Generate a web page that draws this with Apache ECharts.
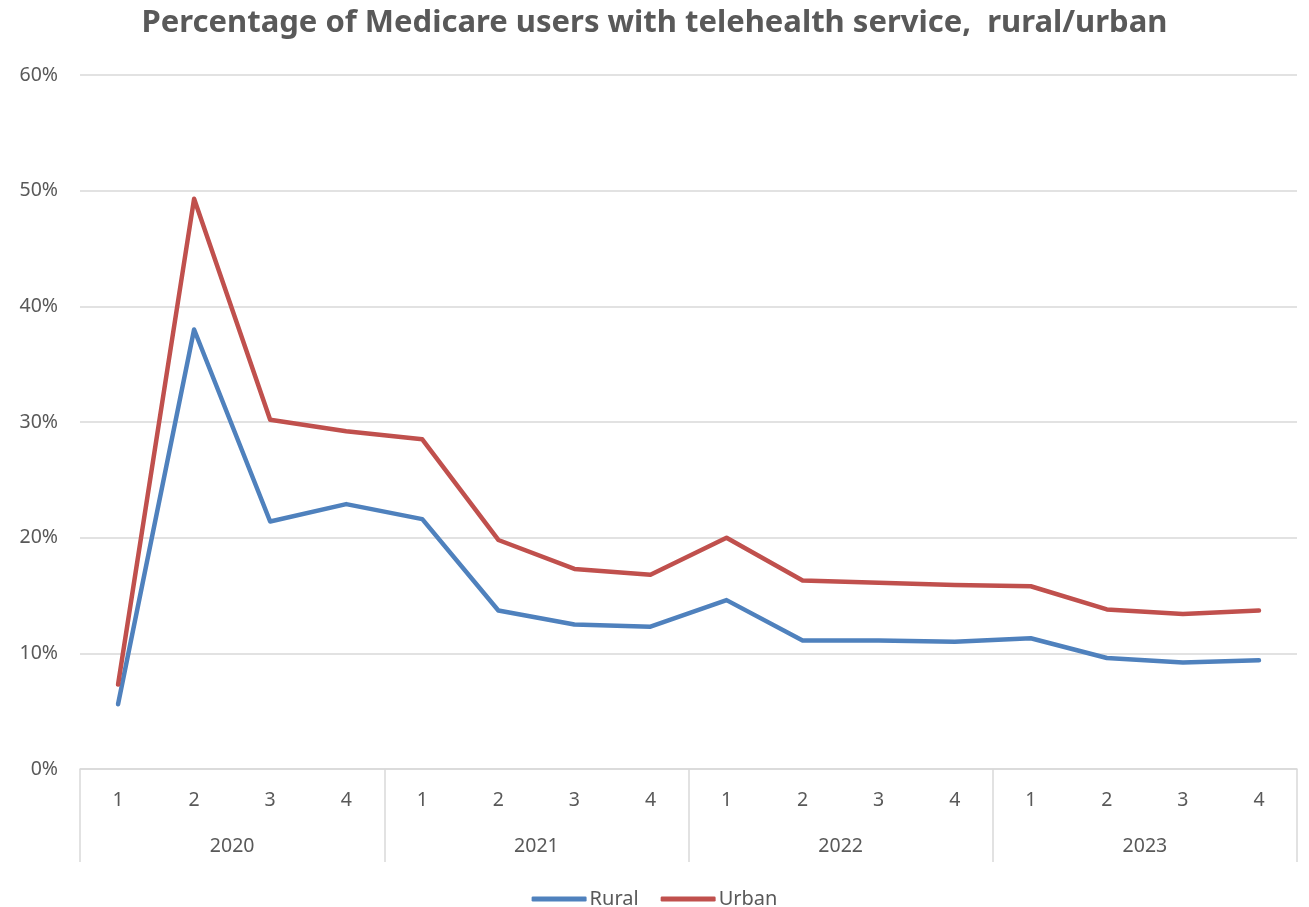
<!DOCTYPE html>
<html><head><meta charset="utf-8">
<script src="https://cdn.jsdelivr.net/npm/echarts@6/dist/echarts.min.js"></script>
<style>html,body{margin:0;padding:0;background:#fff}#c{width:1309px;height:907px}</style>
</head><body><div id="c"></div>
<script>
var quarters = ['1','2','3','4','1','2','3','4','1','2','3','4','1','2','3','4'];
var years = ['2020','2021','2022','2023'];
var rural = [5.6, 38.0, 21.4, 22.9, 21.6, 13.7, 12.5, 12.3, 14.6, 11.1, 11.1, 11.0, 11.3, 9.6, 9.2, 9.4];
var urban = [7.3, 49.3, 30.2, 29.2, 28.5, 19.8, 17.3, 16.8, 20.0, 16.3, 16.1, 15.9, 15.8, 13.8, 13.4, 13.7];
var yTicks = [0, 10, 20, 30, 40, 50, 60];

var FONT = '"Noto Sans", "Open Sans", sans-serif';
var chart = echarts.init(document.getElementById('c'));
chart.setOption({
  animation: false,
  backgroundColor: '#fff',
  title: {
    text: 'Percentage of Medicare users with telehealth service,  rural/urban',
    left: 'center', top: 3,
    textStyle: { fontFamily: FONT, fontSize: 31, fontWeight: 'bold', color: '#595959' }
  },
  legend: {
    bottom: -7, left: 'center',
    itemWidth: 55, itemHeight: 5, itemGap: 22,
    icon: 'roundRect',
    textStyle: { fontFamily: FONT, fontSize: 20, color: '#595959', padding: [0,0,0,-2] },
    data: ['Rural', 'Urban']
  },
  grid: { left: 80, right: 12, top: 75, bottom: 138, containLabel: false },
  xAxis: [
    {
      type: 'category', data: quarters, boundaryGap: true, position: 'bottom', offset: 0,
      axisLine: { show: true, lineStyle: { color: '#D9D9D9', width: 1.5 } },
      axisTick: { show: false },
      axisLabel: { margin: 21, interval: 0, fontFamily: FONT, fontSize: 19.5, color: '#595959' }
    },
    {
      type: 'category', data: years, boundaryGap: true, position: 'bottom', offset: 0,
      axisLine: { show: false },
      axisTick: { show: true, length: 93, interval: 0, lineStyle: { color: '#D9D9D9', width: 1.5 } },
      axisLabel: { margin: 67, interval: 0, fontFamily: FONT, fontSize: 19.5, color: '#595959' }
    }
  ],
  yAxis: {
    type: 'value', min: yTicks[0], max: yTicks[yTicks.length - 1], interval: 10,
    axisLine: { show: false }, axisTick: { show: false },
    axisLabel: { margin: 22, fontFamily: FONT, fontSize: 19.5, color: '#595959', formatter: '{value}%' },
    splitLine: { lineStyle: { color: '#D9D9D9', width: 1.5 } }
  },
  series: [
    { name: 'Rural', type: 'line', xAxisIndex: 0, data: rural, symbol: 'none',
      lineStyle: { color: '#4F81BD', width: 4.5, cap: 'round', join: 'round' }, itemStyle: { color: '#4F81BD' } },
    { name: 'Urban', type: 'line', xAxisIndex: 0, data: urban, symbol: 'none',
      lineStyle: { color: '#C0504D', width: 4.5, cap: 'round', join: 'round' }, itemStyle: { color: '#C0504D' } }
  ]
});
</script></body></html>
